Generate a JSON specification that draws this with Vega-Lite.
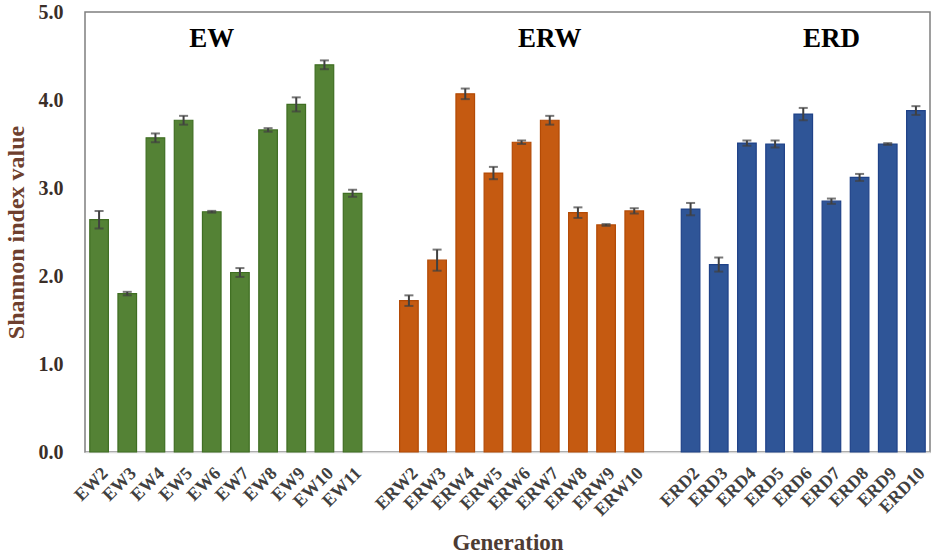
{
  "$schema": "https://vega.github.io/schema/vega-lite/v6.json",
  "width": 845,
  "height": 440,
  "autosize": {"type": "none"},
  "padding": {"left": 85, "top": 12, "right": 5, "bottom": 105},
  "background": "white",
  "config": {
    "view": {"stroke": "#7f7f7f", "strokeWidth": 1.5},
    "font": "Liberation Serif",
    "axis": {"labelFont": "Liberation Serif", "titleFont": "Liberation Serif"},
    "text": {"font": "Liberation Serif"}
  },
  "data": {
    "values": [
      {"gen": "EW2", "group": "EW", "shannon": 2.64, "err": 0.10},
      {"gen": "EW3", "group": "EW", "shannon": 1.80, "err": 0.02},
      {"gen": "EW4", "group": "EW", "shannon": 3.57, "err": 0.05},
      {"gen": "EW5", "group": "EW", "shannon": 3.77, "err": 0.05},
      {"gen": "EW6", "group": "EW", "shannon": 2.73, "err": 0.01},
      {"gen": "EW7", "group": "EW", "shannon": 2.04, "err": 0.05},
      {"gen": "EW8", "group": "EW", "shannon": 3.66, "err": 0.02},
      {"gen": "EW9", "group": "EW", "shannon": 3.95, "err": 0.08},
      {"gen": "EW10", "group": "EW", "shannon": 4.40, "err": 0.05},
      {"gen": "EW11", "group": "EW", "shannon": 2.94, "err": 0.04},
      {"gen": "ERW2", "group": "ERW", "shannon": 1.72, "err": 0.06},
      {"gen": "ERW3", "group": "ERW", "shannon": 2.18, "err": 0.12},
      {"gen": "ERW4", "group": "ERW", "shannon": 4.07, "err": 0.06},
      {"gen": "ERW5", "group": "ERW", "shannon": 3.17, "err": 0.07},
      {"gen": "ERW6", "group": "ERW", "shannon": 3.52, "err": 0.02},
      {"gen": "ERW7", "group": "ERW", "shannon": 3.77, "err": 0.05},
      {"gen": "ERW8", "group": "ERW", "shannon": 2.72, "err": 0.06},
      {"gen": "ERW9", "group": "ERW", "shannon": 2.58, "err": 0.01},
      {"gen": "ERW10", "group": "ERW", "shannon": 2.74, "err": 0.03},
      {"gen": "ERD2", "group": "ERD", "shannon": 2.76, "err": 0.07},
      {"gen": "ERD3", "group": "ERD", "shannon": 2.13, "err": 0.08},
      {"gen": "ERD4", "group": "ERD", "shannon": 3.51, "err": 0.03},
      {"gen": "ERD5", "group": "ERD", "shannon": 3.50, "err": 0.04},
      {"gen": "ERD6", "group": "ERD", "shannon": 3.84, "err": 0.07},
      {"gen": "ERD7", "group": "ERD", "shannon": 2.85, "err": 0.03},
      {"gen": "ERD8", "group": "ERD", "shannon": 3.12, "err": 0.04},
      {"gen": "ERD9", "group": "ERD", "shannon": 3.50, "err": 0.01},
      {"gen": "ERD10", "group": "ERD", "shannon": 3.88, "err": 0.05}
    ]
  },
  "encoding": {
    "x": {
      "field": "gen",
      "type": "nominal",
      "sort": null,
      "scale": {
        "domain": ["EW2","EW3","EW4","EW5","EW6","EW7","EW8","EW9","EW10","EW11","gap1",
                   "ERW2","ERW3","ERW4","ERW5","ERW6","ERW7","ERW8","ERW9","ERW10","gap2",
                   "ERD2","ERD3","ERD4","ERD5","ERD6","ERD7","ERD8","ERD9","ERD10"],
        "paddingInner": 0.34,
        "paddingOuter": 0.17
      },
      "axis": {
        "title": "Generation",
        "titleFontSize": 23,
        "titleFontWeight": "bold",
        "titleColor": "#4d3b33",
        "titlePadding": 12,
        "labelAngle": -45,
        "labelFontSize": 18,
        "labelFontWeight": "bold",
        "labelColor": "#404040",
        "labelPadding": 12,
        "labelExpr": "indexof(datum.value, 'gap') == 0 ? '' : datum.value",
        "ticks": false,
        "domainColor": "#d9d9d9",
        "domainWidth": 1.5
      }
    }
  },
  "layer": [
    {
      "mark": {"type": "bar", "strokeWidth": 1.2},
      "encoding": {
        "y": {
          "field": "shannon",
          "type": "quantitative",
          "scale": {"domain": [0, 5]},
          "title": "Shannon index value",
          "axis": {
            "titleFontSize": 24,
            "titleFontWeight": "bold",
            "titleColor": "#6e3f2e",
            "titlePadding": 10,
            "values": [0, 1, 2, 3, 4, 5],
            "format": ".1f",
            "labelFontSize": 20,
            "labelFontWeight": "bold",
            "labelColor": "#3a2e28",
            "labelPadding": 22,
            "ticks": false,
            "domain": false,
            "grid": false
          }
        },
        "color": {
          "field": "group",
          "type": "nominal",
          "scale": {"domain": ["EW", "ERW", "ERD"], "range": ["#548235", "#c55a11", "#2f5597"]},
          "legend": null
        },
        "stroke": {
          "field": "group",
          "type": "nominal",
          "scale": {"domain": ["EW", "ERW", "ERD"], "range": ["#3f6e22", "#b34a05", "#1f4288"]},
          "legend": null
        }
      }
    },
    {
      "mark": {"type": "errorbar", "ticks": true, "size": 9, "thickness": 2, "color": "#404040"},
      "encoding": {
        "y": {"field": "shannon", "type": "quantitative", "title": "Shannon index value"},
        "yError": {"field": "err"}
      }
    },
    {
      "data": {"values": [
        {"label": "EW", "at": "EW6"},
        {"label": "ERW", "at": "ERW7"},
        {"label": "ERD", "at": "ERD7"}
      ]},
      "mark": {"type": "text", "fontSize": 27, "fontWeight": "bold", "color": "black", "baseline": "middle", "font": "Liberation Serif"},
      "encoding": {
        "x": {"field": "at", "type": "nominal"},
        "y": {"datum": 4.69},
        "text": {"field": "label"}
      }
    }
  ]
}
